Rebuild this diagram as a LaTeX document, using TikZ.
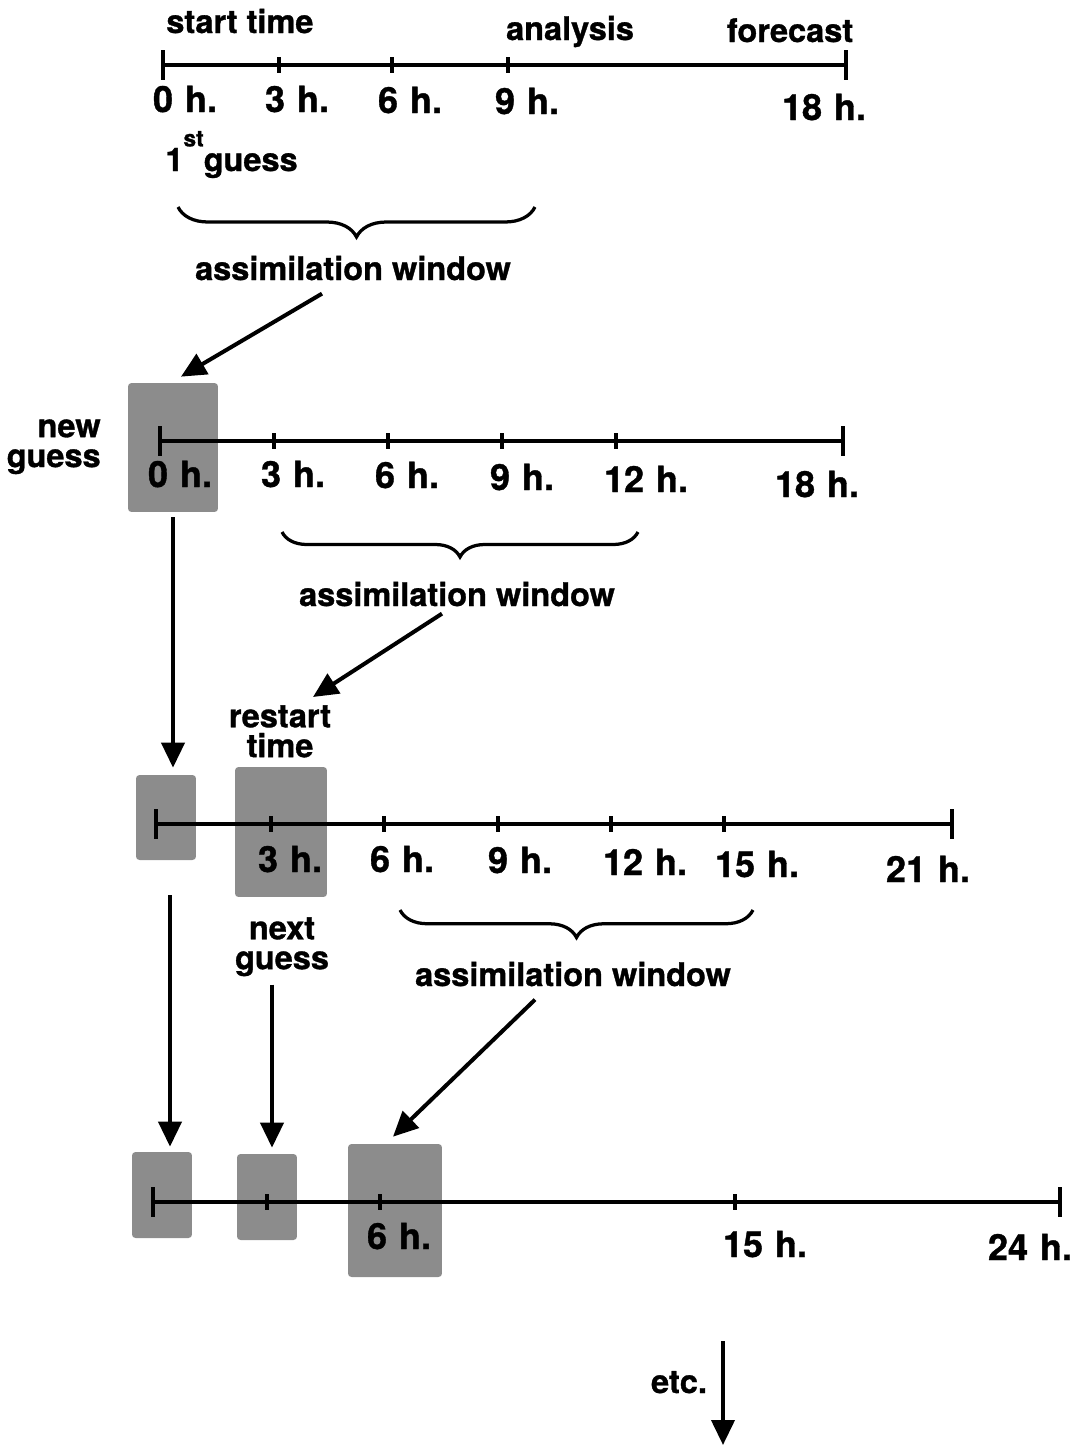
\documentclass[tikz,border=0pt]{standalone}
\usepackage{fontspec}
\setmainfont{TeX Gyre Heros}[BoldFeatures={FakeBold=1}]
\usetikzlibrary{arrows.meta,decorations.pathreplacing}
\begin{document}
\begin{tikzpicture}[x=0.02cm,y=-0.02cm,
	font=\fontsize{18.5}{17}\selectfont\bfseries,
	every node/.style={inner sep=0pt},
	hr/.style={anchor=base,font=\fontsize{20.5}{20}\selectfont\bfseries},
	axis/.style={line width=0.075cm},
	arr/.style={line width=0.08cm,-{Triangle[length=0.5cm,width=0.46cm]}},
	win/.style={line width=0.065cm,decorate,decoration={brace,mirror,amplitude=#1}},
	halftone/.style={fill=black!45,rounded corners=2pt}]
	\useasboundingbox (0,0) rectangle (1085,1447);

	% shaded boxes (drawn first, the axes go over them)
	\node[halftone,minimum width=1.8cm,minimum height=2.58cm] (ng) at (173,447.5) {};
	\node[halftone,minimum width=1.2cm,minimum height=1.7cm] (old3) at (166,817.5) {};
	\node[halftone,minimum width=1.84cm,minimum height=2.6cm] (rt) at (281,832) {};
	\node[halftone,minimum width=1.2cm,minimum height=1.72cm] (old4) at (162,1195) {};
	\node[halftone,minimum width=1.2cm,minimum height=1.72cm] (nx4) at (267,1197) {};
	\node[halftone,minimum width=1.88cm,minimum height=2.66cm] (an4) at (395,1210.5) {};

	% first run: 0 h. to 18 h.
	\draw[axis] (163,50)--(163,80) (163,65)--(846,65) (846,50)--(846,80);
	\foreach \x in {279,392,508} \draw[axis] (\x,57)--(\x,73);
	\foreach \x/\y/\h in {185/112/0, 297/112/3, 410/113/6, 527/114/9, 824/120/18}
		\node[hr] (r1h\h) at (\x,\y) {\h\hspace{0.33em}h.};
	\node[anchor=base west] (start) at (166,33) {start time};
	\node[anchor=base] (ana) at (570,40) {analysis};
	\node[anchor=base] (fc) at (790,42) {forecast};
	\node[anchor=base west] (fg) at (165,171) {1\raisebox{14pt}{\fontsize{13}{13}\selectfont st}guess};
	\draw[win=0.6cm] (178,207) -- (535,207);
	\node[anchor=base] (aw1) at (353,280) {assimilation window};

	% second run: new guess at 0 h.
	\draw[axis] (160,426)--(160,456) (160,441)--(843,441) (843,426)--(843,456);
	\foreach \x in {274,388,502,616} \draw[axis] (\x,433)--(\x,449);
	\foreach \x/\y/\h in {180/487/0, 293/487/3, 407/488/6, 522/490/9, 646/492/12, 817/497/18}
		\node[hr] (r2h\h) at (\x,\y) {\h\hspace{0.33em}h.};
	\node[anchor=north east,align=right] (ngl) at (101,419) {new\\guess};
	\draw[win=0.5cm] (282,532) -- (638,532);
	\node[anchor=base] (aw2) at (457,606) {assimilation window};

	% third run: restart at 3 h.
	\draw[axis] (156,809)--(156,839) (156,824)--(952,824) (952,809)--(952,839);
	\foreach \x in {271,384,498,611,724} \draw[axis] (\x,816)--(\x,832);
	\foreach \x/\y/\h in {290/872/3, 402/872/6, 520/873/9, 645/875/12, 757/877/15, 928/882/21}
		\node[hr] (r3h\h) at (\x,\y) {\h\hspace{0.33em}h.};
	\node[anchor=north,align=center] (rtl) at (280,705) {restart\\time};
	\draw[win=0.55cm] (400,910) -- (753,910);
	\node[anchor=base] (aw3) at (573,986) {assimilation window};
	\node[anchor=north,align=center] (nxl) at (282,917) {next\\guess};

	% fourth run: 6 h. to 24 h.
	\draw[axis] (153,1187)--(153,1217) (153,1202)--(1060,1202) (1060,1187)--(1060,1217);
	\foreach \x in {267,380,735} \draw[axis] (\x,1194)--(\x,1210);
	\foreach \x/\y/\h in {399/1249/6, 765/1257/15, 1030/1260/24}
		\node[hr] (r4h\h) at (\x,\y) {\h\hspace{0.33em}h.};
	\node[anchor=base] (etc) at (679,1393) {etc.};
	\coordinate (etctop) at (723,1341);
	\coordinate (etcbot) at (723,1445);

	% arrows
	\draw[arr] (aw1.south) ++(-31,13) -- ([shift={(8,-6)}]ng.north);
	\draw[arr] (aw2.south) ++(-15,7) -- ([shift={(33,-8)}]rtl.north);
	\draw[arr] (aw3.south) ++(-38,13) -- ([shift={(-2,-7)}]an4.north);
	\draw[arr] (ng.south) ++(0,5) -- ([shift={(7,-7)}]old3.north);
	\draw[arr] (old3.south) ++(4,35) -- ([shift={(8,-5)}]old4.north);
	\draw[arr] (nxl.south) ++(-10,8) -- ([shift={(5,-6)}]nx4.north);
	\draw[arr] (etctop) -- (etcbot);
\end{tikzpicture}
\end{document}
